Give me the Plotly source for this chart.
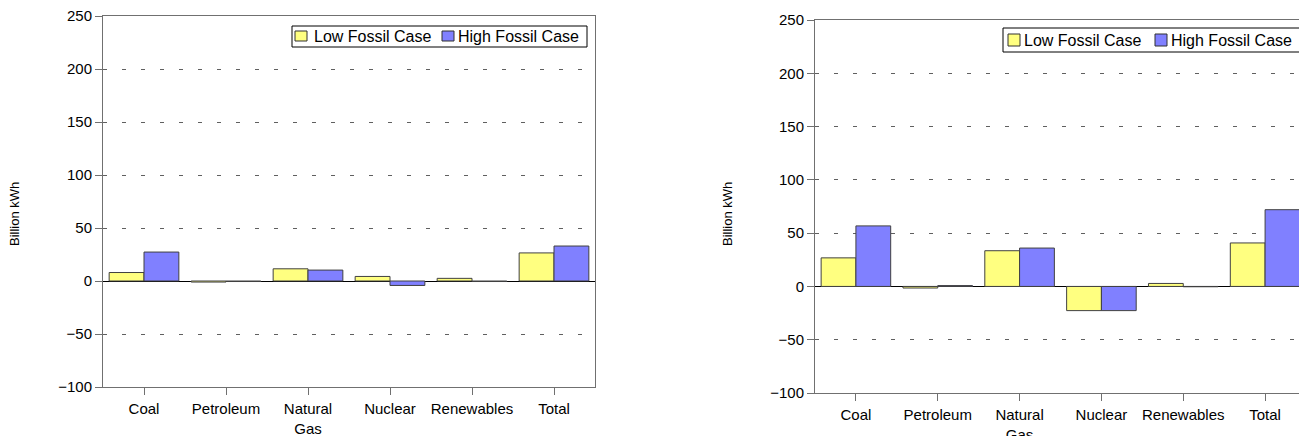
import plotly.graph_objects as go

categories = ["Coal", "Petroleum", "Natural<br>Gas", "Nuclear", "Renewables", "Total"]
series_names = ["Low Fossil Case", "High Fossil Case"]

# left panel
low_left = [8, -1, 11.5, 4.3, 2.5, 26.5]
high_left = [27.3, -0.5, 10.3, -4.2, -0.5, 33]

# right panel
low_right = [26.8, -1.5, 33.5, -22.7, 2.8, 40.8]
high_right = [56.8, 0.8, 36, -22.7, -0.3, 72]

y_ticks = [-100, -50, 0, 50, 100, 150, 200, 250]

yellow = "#FFFF80"
blue = "#8080FF"
W, H = 1307, 436
OFF = 8  # page body margin


def px(x):
    return (x - OFF) / W


def py(y):
    return 1 - (y - OFF) / H


fig = go.Figure()

for vals, col, name, xa, ya in [
    (low_left, yellow, series_names[0], "x", "y"),
    (high_left, blue, series_names[1], "x", "y"),
    (low_right, yellow, series_names[0], "x2", "y2"),
    (high_right, blue, series_names[1], "x2", "y2"),
]:
    fig.add_trace(go.Bar(x=categories, y=vals, name=name, marker_color=col,
                         marker_line=dict(color="#404040", width=1),
                         xaxis=xa, yaxis=ya, showlegend=False))

xcommon = dict(type="category", showline=True, linecolor="#707070", linewidth=1, mirror=True,
               ticks="outside", ticklen=7, tickcolor="#707070", showgrid=False, automargin=False,
               ticklabelstandoff=1, ticklabeloverflow="allow",
               tickfont=dict(size=15, color="black"))
ycommon = dict(range=[-100, 250], tickvals=y_ticks, showline=True, linecolor="#707070", linewidth=1,
               mirror=True, ticks="outside", ticklen=7, tickcolor="#707070", automargin=False,
               ticklabeloverflow="allow",
               showgrid=True, gridcolor="#606060", griddash="4px,15px", gridwidth=1,
               zeroline=True, zerolinecolor="black", zerolinewidth=1,
               tickfont=dict(size=15, color="black"))

fig.update_layout(
    width=W, height=H,
    margin=dict(l=0, r=0, t=0, b=0),
    paper_bgcolor="white", plot_bgcolor="white",
    font=dict(family="Liberation Sans, Arial, sans-serif", color="black"),
    barmode="group", bargap=0.15, bargroupgap=0,
    showlegend=False,
    xaxis=dict(domain=[px(103), px(595)], anchor="y", **xcommon),
    yaxis=dict(domain=[py(387), py(16)], anchor="x", **ycommon),
    xaxis2=dict(domain=[px(815), px(1306)], anchor="y2", **xcommon),
    yaxis2=dict(domain=[py(393), py(20)], anchor="x2", **ycommon),
)

# y-axis titles
for xpos, ypos in [(15, 214), (728, 214)]:
    fig.add_annotation(text="Billion kWh", textangle=-90, xref="paper", yref="paper",
                       x=px(xpos), y=py(ypos), xanchor="center", yanchor="middle",
                       showarrow=False, font=dict(size=13, color="black"))

# legends (box, swatches, labels)
legends = [
    dict(box=(292, 26, 587, 47), swatches=[(295, 307), (442, 454)], sy=(31, 41),
         texts=[313, 457], ty=36),
    dict(box=(1003, 28, 1305, 52), swatches=[(1008, 1020), (1155, 1167)], sy=(34, 46),
         texts=[1023, 1170], ty=40),
]
for lg in legends:
    x0, y0, x1, y1 = lg["box"]
    fig.add_shape(type="rect", xref="paper", yref="paper", x0=px(x0), x1=px(x1),
                  y0=py(y1), y1=py(y0), line=dict(color="black", width=1), fillcolor="white")
    for (sx0, sx1), col, tx, name in zip(lg["swatches"], [yellow, blue], lg["texts"], series_names):
        fig.add_shape(type="rect", xref="paper", yref="paper", x0=px(sx0), x1=px(sx1),
                      y0=py(lg["sy"][1]), y1=py(lg["sy"][0]),
                      line=dict(color="#303030", width=1), fillcolor=col)
        fig.add_annotation(text=name, xref="paper", yref="paper", x=px(tx), y=py(lg["ty"]),
                           xanchor="left", yanchor="middle", showarrow=False,
                           font=dict(size=16, color="black"), borderpad=0)

fig.write_html("out.html")
